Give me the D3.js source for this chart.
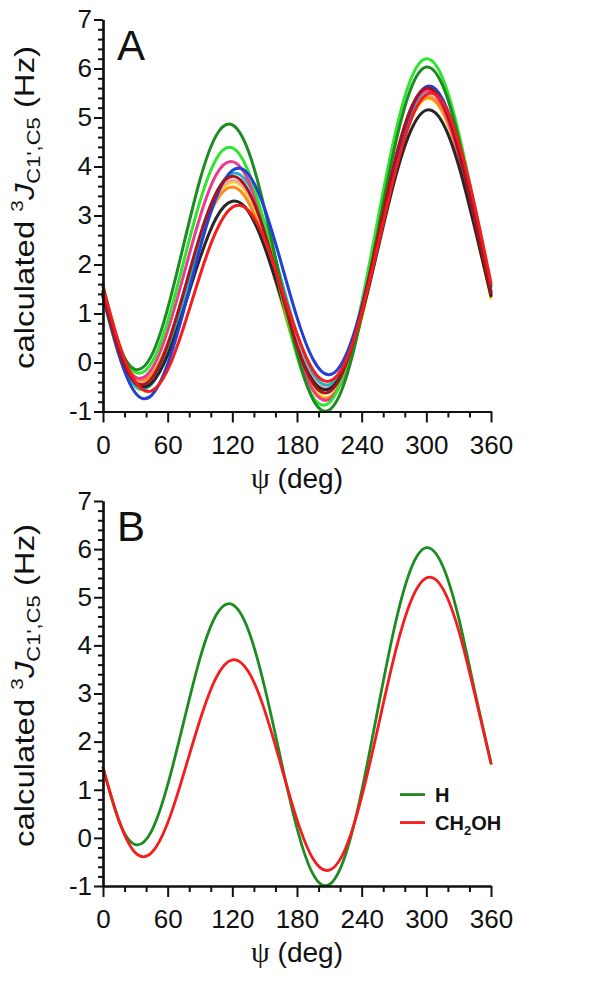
<!DOCTYPE html>
<html><head><meta charset="utf-8">
<script src="https://cdn.jsdelivr.net/npm/d3@7"></script>
<style>body{margin:0;background:#fff}svg{display:block}</style></head>
<body>
<svg id="chart" width="600" height="1007"></svg>
<script>
// ---------- data ----------
const psi = [0,15,30,45,60,75,90,105,120,135,150,165,180,195,210,225,240,255,270,285,300,315,330,345,360];
const xMajor = [0,60,120,180,240,300,360];
const yMajor = [-1,0,1,2,3,4,5,6,7];

// Panel A series (calculated 3J C1',C5, Hz)
const darkGreenA = [1.46,0.34,-0.14,0.14,1.10,2.42,3.73,4.63,4.85,4.31,3.13,1.63,0.20,-0.76,-0.97,-0.35,0.97,2.67,4.33,5.55,6.03,5.66,4.57,3.04,1.55];
const limeA      = [1.58,0.36,-0.20,-0.01,0.84,2.07,3.29,4.15,4.38,3.89,2.81,1.43,0.13,-0.71,-0.82,-0.13,1.22,2.92,4.56,5.75,6.20,5.81,4.69,3.15,1.58];
const magentaA   = [1.37,0.24,-0.30,-0.14,0.65,1.80,2.97,3.83,4.10,3.71,2.75,1.48,0.25,-0.57,-0.75,-0.20,0.98,2.50,4.00,5.11,5.55,5.23,4.23,2.82,1.37];
const blueA      = [1.35,0.14,-0.62,-0.67,-0.03,1.07,2.33,3.37,3.92,3.84,3.14,2.06,0.92,0.06,-0.25,0.13,1.14,2.54,3.99,5.11,5.63,5.38,4.43,3.01,1.45];
const cyanA      = [1.39,0.18,-0.48,-0.44,0.24,1.33,2.52,3.45,3.86,3.64,2.85,1.72,0.58,-0.23,-0.45,0.02,1.10,2.54,3.99,5.08,5.54,5.26,4.29,2.89,1.39];
const darkRedA   = [1.42,0.23,-0.40,-0.33,0.36,1.44,2.59,3.46,3.80,3.50,2.65,1.48,0.34,-0.43,-0.60,-0.06,1.08,2.57,4.05,5.15,5.60,5.29,4.31,2.90,1.42];
const yellowA    = [1.31,0.13,-0.50,-0.44,0.23,1.30,2.44,3.32,3.68,3.40,2.58,1.43,0.29,-0.50,-0.70,-0.20,0.91,2.36,3.82,4.91,5.38,5.10,4.15,2.77,1.31];
const orangeA    = [1.45,0.31,-0.30,-0.25,0.39,1.41,2.48,3.29,3.58,3.27,2.42,1.29,0.18,-0.57,-0.72,-0.19,0.94,2.40,3.85,4.94,5.40,5.13,4.21,2.87,1.45];
const blackA     = [1.36,0.22,-0.42,-0.42,0.15,1.10,2.13,2.95,3.29,3.08,2.35,1.34,0.32,-0.38,-0.54,-0.07,0.96,2.31,3.67,4.70,5.15,4.90,4.02,2.74,1.36];
const redA       = [1.55,0.38,-0.39,-0.58,-0.15,0.73,1.78,2.68,3.17,3.10,2.51,1.57,0.58,-0.16,-0.38,0.02,1.01,2.37,3.78,4.91,5.47,5.32,4.50,3.19,1.62];
const salmonA    = [1.40,0.24,-0.36,-0.29,0.38,1.43,2.54,3.39,3.72,3.44,2.63,1.51,0.41,-0.34,-0.50,0.02,1.12,2.55,3.97,5.03,5.45,5.15,4.19,2.83,1.40];

// Panel B series
const hB     = [1.46,0.34,-0.14,0.14,1.10,2.42,3.73,4.63,4.85,4.31,3.13,1.63,0.20,-0.76,-0.97,-0.35,0.97,2.67,4.33,5.55,6.03,5.66,4.57,3.04,1.55];
const ch2ohB = [1.46,0.35,-0.31,-0.31,0.31,1.34,2.45,3.33,3.70,3.45,2.65,1.52,0.38,-0.44,-0.67,-0.22,0.85,2.28,3.75,4.88,5.40,5.19,4.31,2.98,1.55];

const seriesA = [
  {values: yellowA,    color: "#f2e21c"},
  {values: salmonA,    color: "#f4a2a2"},
  {values: orangeA,    color: "#ff8a1c"},
  {values: cyanA,      color: "#22b2c6"},
  {values: magentaA,   color: "#ee3a8c"},
  {values: blackA,     color: "#262626"},
  {values: limeA,      color: "#2ee62e"},
  {values: darkGreenA, color: "#1d8a22"},
  {values: blueA,      color: "#2040d6"},
  {values: darkRedA,   color: "#a8141c"},
  {values: redA,       color: "#f41c1c"}
];
const seriesB = [
  {values: hB,     color: "#1d8a22", name: "H"},
  {values: ch2ohB, color: "#f41c1c", name: "CH2OH"}
];

// ---------- drawing ----------
const svg = d3.select("#chart");
svg.append("rect").attr("width",600).attr("height",1007).attr("fill","#fff");
const FONT = "'Liberation Sans', Arial, Helvetica, sans-serif";
const x = d3.scaleLinear().domain([0,360]).range([103,491]);
const xMinor = d3.range(0,361,20).filter(v => !xMajor.includes(v));
const yMinor = d3.range(-1,7.001,0.2).map(v => +v.toFixed(1)).filter(v => Math.abs(v-Math.round(v))>0.01);

function panel(yBottom, yTop, series, letter, legend, lw) {
  const y = d3.scaleLinear().domain([-1,7]).range([yBottom, yTop]);
  const g = svg.append("g");

  // lines
  const line = d3.line().x((d,i)=>x(psi[i])).y(d=>y(d)).curve(d3.curveNatural);
  g.selectAll("path.series").data(series).join("path")
    .attr("class","series")
    .attr("d", d => line(d.values))
    .attr("fill","none").attr("stroke", d=>d.color)
    .attr("stroke-width", lw).attr("stroke-linejoin","round").attr("stroke-linecap","round");

  // axes
  const ax = [];
  ax.push(g.append("g").attr("transform",`translate(${x(0)},0)`)
    .call(d3.axisLeft(y).tickValues(yMinor).tickSize(5).tickSizeOuter(0).tickFormat("")));
  ax.push(g.append("g").attr("transform",`translate(${x(0)},0)`)
    .call(d3.axisLeft(y).tickValues(yMajor).tickSize(9).tickSizeOuter(0).tickPadding(2).tickFormat(d=>String(d))));
  ax.push(g.append("g").attr("transform",`translate(0,${y(-1)})`)
    .call(d3.axisBottom(x).tickValues(xMinor).tickSize(6).tickSizeOuter(0).tickFormat("")));
  ax.push(g.append("g").attr("transform",`translate(0,${y(-1)})`)
    .call(d3.axisBottom(x).tickValues(xMajor).tickSize(11).tickSizeOuter(0).tickPadding(13).tickFormat(d=>String(d))));
  ax.forEach(a => {
    a.select(".domain").attr("stroke","#111").attr("stroke-width",2.2);
    a.selectAll(".tick line").attr("stroke","#111").attr("stroke-width",2);
    a.selectAll(".tick text").attr("font-family",FONT).attr("font-size",26).attr("fill","#111");
  });

  // panel letter
  g.append("text").attr("x",117).attr("y",yTop+40).attr("font-family",FONT)
    .attr("font-size",42).attr("fill","#111").text(letter);

  // x title
  const xt = g.append("text").attr("x",(x(0)+x(360))/2).attr("y",yBottom+76)
    .attr("text-anchor","middle").attr("font-family",FONT).attr("font-size",28).attr("fill","#111");
  xt.append("tspan").attr("font-family","'Liberation Serif','DejaVu Serif',serif").attr("font-size",30).text("ψ");
  xt.append("tspan").text(" (deg)");

  // y title
  const cy = (yBottom+yTop)/2 - 8;
  const yt = g.append("g").attr("transform",`translate(34,${cy}) rotate(-90) scale(1.22,1)`)
    .append("text").attr("text-anchor","middle").attr("font-family",FONT).attr("font-size",27).attr("fill","#111");
  yt.append("tspan").text("calculated ");
  yt.append("tspan").attr("font-size",17).attr("dy",-11).text("3");
  yt.append("tspan").attr("font-style","italic").attr("dy",11).text("J");
  yt.append("tspan").attr("font-size",18).attr("dy",6).text("C1',C5");
  yt.append("tspan").attr("dy",-6).text(" (Hz)");

  if (legend) {
    const lg = g.append("g");
    series.forEach((s,i) => {
      const ly = y(0.9) + i*28;
      lg.append("line").attr("x1",400).attr("x2",425).attr("y1",ly).attr("y2",ly)
        .attr("stroke",s.color).attr("stroke-width",lw);
      const t = lg.append("text").attr("x",435).attr("y",ly+7).attr("font-family",FONT)
        .attr("font-weight","bold").attr("font-size",20).attr("fill","#111");
      if (s.name === "CH2OH") {
        t.append("tspan").text("CH");
        t.append("tspan").attr("font-size",13).attr("dy",5).text("2");
        t.append("tspan").attr("dy",-5).text("OH");
      } else t.text(s.name);
    });
  }
}

panel(411.5, 19.5, seriesA, "A", false, 3);
panel(886, 501, seriesB, "B", true, 2.8);
</script>
</body></html>
